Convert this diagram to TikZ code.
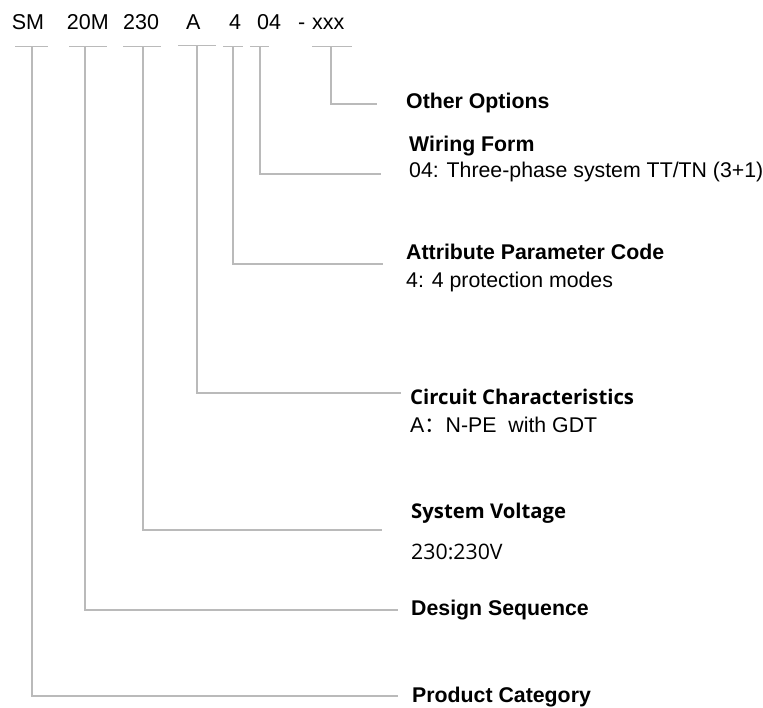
\documentclass[tikz,border=0pt]{standalone}
\usepackage{fontspec}
\setmainfont{Liberation Sans}
\newfontfamily\yh{Open Sans}
\newfontfamily\cjk{Noto Sans CJK SC}
\begin{document}
\begin{tikzpicture}[x=1pt,y=-1pt,
  conn/.style={draw=black!27,line width=1.4pt},
  code/.style={inner sep=0pt,anchor=base west,font=\fontsize{21.5}{25}\selectfont},
  head/.style={inner sep=0pt,anchor=base west,font=\fontsize{21.3}{25}\selectfont\bfseries},
  desc/.style={inner sep=0pt,anchor=base west,font=\fontsize{21.3}{25}\selectfont},
  yhhead/.style={inner sep=0pt,anchor=base west,font=\yh\bfseries\fontsize{20.3}{24}\selectfont},
  yhdesc/.style={inner sep=0pt,anchor=base west,font=\yh\fontsize{21.3}{24}\selectfont}]
\useasboundingbox (0,0) rectangle (763,708);
% code parts
\node[code] (cSM) at (11.7,30) {SM};
\node[code] (c20M) at (66.7,30) {20M};
\node[code] (c230) at (123,30) {230};
\node[code] (cA) at (186,30) {A};
\node[code] (c4) at (229,30) {4};
\node[code] (c04) at (257,30) {04};
\node[code] (cdash) at (298,30) {-};
\node[code] (cxxx) at (312,30) {xxx};
% bars
\draw[conn] (15,46.7) -- (48,46.7);
\draw[conn] (69,46.7) -- (107,46.7);
\draw[conn] (123,46.7) -- (161,46.7);
\draw[conn] (178,45.7) -- (216,45.7);
\draw[conn] (223,46.7) -- (243,46.7);
\draw[conn] (250,46.7) -- (269,46.7);
\draw[conn] (312,46.7) -- (352,46.7);
% bar tap points
\coordinate (tSM) at (32,46.7);
\coordinate (t20M) at (85,46.7);
\coordinate (t230) at (143,46.7);
\coordinate (tA) at (197,45.7);
\coordinate (t4) at (233,46.7);
\coordinate (t04) at (260,46.7);
\coordinate (txxx) at (331,46.7);
% line ends
\coordinate (exxx) at (377,104);
\coordinate (e04) at (381,174);
\coordinate (e4) at (383,264);
\coordinate (eA) at (401,393);
\coordinate (e230) at (382,530);
\coordinate (e20M) at (398,610);
\coordinate (eSM) at (398,696);
% labels
\node[head] (lOO) at (406,108.5) {Other Options};
\node[head] (lWF) at (409,151.7) {Wiring Form};
\node[desc] (dWF) at (409,178) {04: Three-phase system TT/TN (3+1)};
\node[head] (lAP) at (406,259.5) {Attribute Parameter Code};
\node[desc] (dAP) at (406,288) {4: 4 protection modes};
\node[yhhead] (lCC) at (410,405) {Circuit Characteristics};
\node[desc] (dCC) at (410,432.7) {A{\cjk ：}N-PE\ \ with GDT};
\node[yhhead] (lSV) at (411,518) {System Voltage};
\node[yhdesc] (dSV) at (411,559) {230:230V};
\node[head] (lDS) at (411,615) {Design Sequence};
\node[head] (lPC) at (412,702) {Product Category};
% connectors
\draw[conn] (txxx) |- (exxx);
\draw[conn] (t04) |- (e04);
\draw[conn] (t4) |- (e4);
\draw[conn] (tA) |- (eA);
\draw[conn] (t230) |- (e230);
\draw[conn] (t20M) |- (e20M);
\draw[conn] (tSM) |- (eSM);
\end{tikzpicture}
\end{document}
